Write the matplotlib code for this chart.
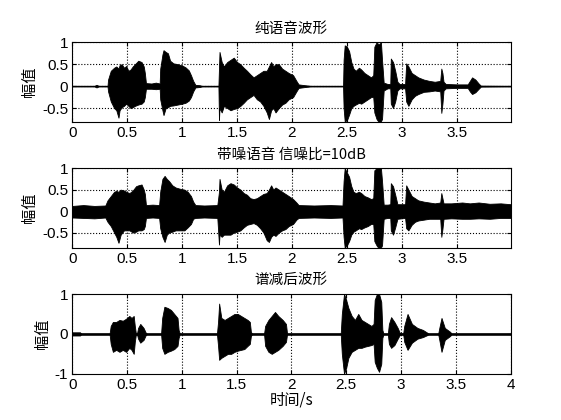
import numpy as np
import matplotlib.pyplot as plt

plt.rcParams['font.family'] = ['Liberation Sans', 'Noto Sans CJK SC', 'DejaVu Sans']
plt.rcParams['font.size'] = 10

# 包络读数：时间(s)，上包络，下包络
t_clean = [0.00, 0.20, 0.22, 0.24, 0.32, 0.325, 0.35, 0.38, 0.40, 0.42,
           0.43, 0.45, 0.47, 0.49, 0.51, 0.53, 0.55, 0.57, 0.60, 0.63,
           0.65, 0.66, 0.67, 0.72, 0.76, 0.795, 0.80, 0.82, 0.83, 0.85,
           0.87, 0.89, 0.92, 0.96, 1.00, 1.03, 1.06, 1.08, 1.10, 1.12,
           1.16, 1.18, 1.33, 1.335, 1.34, 1.36, 1.38, 1.41, 1.44, 1.47,
           1.50, 1.53, 1.56, 1.59, 1.62, 1.65, 1.68, 1.71, 1.74, 1.77,
           1.79, 1.81, 1.83, 1.85, 1.88, 1.91, 1.94, 1.97, 2.01, 2.04,
           2.06, 2.12, 2.17, 2.465, 2.47, 2.48, 2.50, 2.52, 2.54, 2.56,
           2.58, 2.61, 2.63, 2.66, 2.69, 2.72, 2.74, 2.75, 2.77, 2.79,
           2.81, 2.82, 2.835, 2.87, 2.895, 2.90, 2.92, 2.94, 2.96, 2.98,
           3.03, 3.04, 3.06, 3.09, 3.12, 3.15, 3.20, 3.25, 3.30, 3.35,
           3.36, 3.37, 3.38, 3.40, 3.50, 3.60, 3.62, 3.64, 3.67, 3.70,
           3.72, 3.99]
up_clean = [0.005, 0.005, 0.03, 0.005, 0.005, 0.15, 0.35, 0.42, 0.45, 0.40,
            0.48, 0.50, 0.42, 0.46, 0.35, 0.38, 0.45, 0.50, 0.58, 0.55,
            0.45, 0.30, 0.07, 0.06, 0.08, 0.06, 0.40, 0.72, 0.82, 0.78,
            0.75, 0.58, 0.52, 0.50, 0.47, 0.43, 0.36, 0.25, 0.12, 0.03,
            0.02, 0.005, 0.005, 0.40, 0.78, 0.55, 0.45, 0.55, 0.60, 0.65,
            0.55, 0.50, 0.42, 0.35, 0.27, 0.20, 0.25, 0.30, 0.35, 0.35,
            0.45, 0.55, 0.45, 0.50, 0.50, 0.40, 0.35, 0.30, 0.25, 0.12,
            0.04, 0.02, 0.005, 0.005, 0.60, 0.93, 0.90, 0.80, 0.55, 0.40,
            0.35, 0.42, 0.38, 0.30, 0.25, 0.20, 0.25, 0.90, 1.00, 0.95,
            1.00, 0.60, 0.08, 0.05, 0.05, 0.63, 0.55, 0.35, 0.10, 0.05,
            0.05, 0.52, 0.45, 0.30, 0.25, 0.20, 0.15, 0.12, 0.10, 0.12,
            0.40, 0.30, 0.10, 0.05, 0.04, 0.04, 0.12, 0.20, 0.15, 0.06,
            0.01, 0.005]
lo_clean = [-0.005, -0.005, -0.03, -0.005, -0.005, -0.12, -0.35, -0.50, -0.55, -0.72,
            -0.55, -0.48, -0.45, -0.40, -0.45, -0.50, -0.48, -0.45, -0.42, -0.40,
            -0.35, -0.25, -0.06, -0.06, -0.07, -0.06, -0.30, -0.55, -0.66, -0.50,
            -0.48, -0.45, -0.44, -0.42, -0.40, -0.38, -0.33, -0.25, -0.12, -0.03,
            -0.02, -0.005, -0.005, -0.77, -0.50, -0.60, -0.45, -0.50, -0.55, -0.52,
            -0.50, -0.45, -0.38, -0.30, -0.25, -0.20, -0.30, -0.35, -0.45, -0.60,
            -0.75, -0.55, -0.50, -0.60, -0.50, -0.42, -0.38, -0.30, -0.25, -0.12,
            -0.04, -0.02, -0.005, -0.005, -0.50, -0.80, -0.78, -0.65, -0.50, -0.45,
            -0.42, -0.38, -0.40, -0.35, -0.30, -0.25, -0.25, -0.60, -0.75, -0.82,
            -0.80, -0.75, -0.10, -0.05, -0.05, -0.40, -0.50, -0.35, -0.10, -0.05,
            -0.05, -0.35, -0.45, -0.30, -0.22, -0.18, -0.13, -0.12, -0.10, -0.12,
            -0.61, -0.40, -0.10, -0.05, -0.04, -0.04, -0.12, -0.18, -0.14, -0.06,
            -0.01, -0.005]

t_noisy = [0.00, 0.10, 0.20, 0.30, 0.32, 0.35, 0.38, 0.40, 0.42, 0.44,
           0.47, 0.49, 0.52, 0.55, 0.58, 0.60, 0.63, 0.65, 0.66, 0.67,
           0.73, 0.79, 0.80, 0.82, 0.84, 0.86, 0.88, 0.91, 0.94, 0.98,
           1.02, 1.05, 1.08, 1.10, 1.12, 1.20, 1.32, 1.335, 1.34, 1.36,
           1.38, 1.41, 1.44, 1.47, 1.50, 1.53, 1.56, 1.59, 1.62, 1.65,
           1.68, 1.71, 1.74, 1.77, 1.79, 1.81, 1.83, 1.85, 1.88, 1.91,
           1.94, 1.97, 2.01, 2.04, 2.06, 2.20, 2.35, 2.46, 2.47, 2.48,
           2.50, 2.52, 2.54, 2.56, 2.58, 2.61, 2.63, 2.66, 2.69, 2.72,
           2.74, 2.75, 2.77, 2.79, 2.81, 2.82, 2.835, 2.87, 2.895, 2.90,
           2.92, 2.94, 2.96, 3.03, 3.04, 3.06, 3.09, 3.12, 3.15, 3.20,
           3.25, 3.30, 3.35, 3.36, 3.37, 3.38, 3.45, 3.55, 3.62, 3.70,
           3.80, 3.90, 3.99]
up_noisy = [0.12, 0.14, 0.12, 0.13, 0.25, 0.35, 0.45, 0.47, 0.45, 0.50,
            0.48, 0.45, 0.42, 0.48, 0.58, 0.60, 0.62, 0.50, 0.40, 0.14,
            0.15, 0.14, 0.45, 0.75, 0.82, 0.75, 0.70, 0.60, 0.55, 0.52,
            0.50, 0.45, 0.35, 0.22, 0.14, 0.13, 0.14, 0.45, 0.75, 0.50,
            0.45, 0.60, 0.65, 0.62, 0.55, 0.50, 0.42, 0.38, 0.30, 0.28,
            0.30, 0.35, 0.40, 0.42, 0.50, 0.60, 0.50, 0.55, 0.50, 0.45,
            0.40, 0.35, 0.28, 0.20, 0.14, 0.13, 0.14, 0.13, 0.70, 1.00,
            0.90, 0.80, 0.58, 0.45, 0.42, 0.45, 0.42, 0.35, 0.32, 0.28,
            0.30, 0.95, 1.00, 1.00, 1.00, 0.70, 0.15, 0.15, 0.16, 0.65,
            0.58, 0.38, 0.16, 0.16, 0.60, 0.50, 0.35, 0.30, 0.25, 0.22,
            0.20, 0.18, 0.20, 0.42, 0.30, 0.18, 0.18, 0.20, 0.18, 0.20,
            0.17, 0.18, 0.16]
lo_noisy = [-0.15, -0.16, -0.17, -0.15, -0.25, -0.35, -0.50, -0.60, -0.74, -0.55,
            -0.45, -0.45, -0.45, -0.50, -0.48, -0.45, -0.45, -0.42, -0.35, -0.16,
            -0.15, -0.16, -0.40, -0.60, -0.72, -0.55, -0.50, -0.48, -0.45, -0.45,
            -0.45, -0.38, -0.30, -0.18, -0.16, -0.15, -0.16, -0.78, -0.55, -0.60,
            -0.55, -0.55, -0.55, -0.50, -0.48, -0.45, -0.38, -0.32, -0.30, -0.28,
            -0.32, -0.40, -0.50, -0.68, -0.72, -0.60, -0.55, -0.58, -0.50, -0.45,
            -0.42, -0.35, -0.30, -0.20, -0.16, -0.15, -0.16, -0.15, -0.60, -0.85,
            -0.80, -0.70, -0.55, -0.48, -0.45, -0.40, -0.42, -0.38, -0.35, -0.30,
            -0.30, -0.70, -0.80, -0.87, -0.85, -0.80, -0.18, -0.16, -0.16, -0.45,
            -0.55, -0.38, -0.18, -0.16, -0.40, -0.45, -0.32, -0.25, -0.22, -0.20,
            -0.18, -0.18, -0.18, -0.60, -0.42, -0.18, -0.17, -0.18, -0.18, -0.17,
            -0.18, -0.16, -0.16]

t_enh = [0.00, 0.07, 0.08, 0.34, 0.35, 0.37, 0.40, 0.43, 0.46, 0.49,
         0.52, 0.54, 0.56, 0.57, 0.58, 0.59, 0.60, 0.62, 0.65, 0.67,
         0.68, 0.81, 0.82, 0.84, 0.87, 0.90, 0.93, 0.96, 0.97, 0.98,
         1.32, 1.33, 1.34, 1.36, 1.39, 1.42, 1.45, 1.48, 1.51, 1.54,
         1.57, 1.60, 1.62, 1.63, 1.64, 1.75, 1.76, 1.79, 1.82, 1.85,
         1.88, 1.92, 1.95, 1.96, 2.45, 2.46, 2.48, 2.50, 2.52, 2.55,
         2.58, 2.61, 2.64, 2.67, 2.70, 2.73, 2.75, 2.76, 2.78, 2.80,
         2.82, 2.83, 2.84, 2.88, 2.89, 2.91, 2.94, 2.97, 2.99, 3.02,
         3.03, 3.06, 3.10, 3.15, 3.20, 3.24, 3.25, 3.34, 3.35, 3.37,
         3.40, 3.45, 3.46, 4.00]
up_enh = [0.04, 0.04, 0.01, 0.01, 0.20, 0.30, 0.30, 0.35, 0.33, 0.38,
          0.45, 0.40, 0.45, 0.20, 0.01, 0.01, 0.15, 0.25, 0.15, 0.03,
          0.01, 0.01, 0.40, 0.68, 0.65, 0.60, 0.50, 0.40, 0.10, 0.01,
          0.01, 0.30, 0.76, 0.40, 0.35, 0.40, 0.45, 0.50, 0.50, 0.45,
          0.40, 0.35, 0.30, 0.05, 0.01, 0.01, 0.20, 0.35, 0.45, 0.55,
          0.45, 0.35, 0.25, 0.01, 0.01, 0.50, 1.00, 0.85, 0.65, 0.45,
          0.35, 0.50, 0.35, 0.30, 0.25, 0.20, 0.25, 0.85, 1.00, 1.00,
          0.80, 0.10, 0.01, 0.01, 0.25, 0.42, 0.30, 0.15, 0.02, 0.01,
          0.20, 0.50, 0.25, 0.15, 0.10, 0.03, 0.01, 0.01, 0.15, 0.40,
          0.15, 0.05, 0.01, 0.01]
lo_enh = [-0.04, -0.04, -0.01, -0.01, -0.25, -0.45, -0.40, -0.45, -0.40, -0.45,
          -0.35, -0.40, -0.50, -0.20, -0.01, -0.01, -0.12, -0.22, -0.15, -0.03,
          -0.01, -0.01, -0.35, -0.50, -0.45, -0.42, -0.38, -0.30, -0.10, -0.01,
          -0.01, -0.30, -0.65, -0.60, -0.55, -0.50, -0.50, -0.45, -0.42, -0.40,
          -0.38, -0.30, -0.25, -0.05, -0.01, -0.01, -0.30, -0.45, -0.50, -0.45,
          -0.40, -0.30, -0.20, -0.01, -0.01, -0.50, -1.00, -0.85, -0.60, -0.45,
          -0.40, -0.35, -0.35, -0.32, -0.30, -0.28, -0.25, -0.70, -0.85, -0.95,
          -0.75, -0.10, -0.01, -0.01, -0.25, -0.35, -0.28, -0.12, -0.02, -0.01,
          -0.20, -0.40, -0.22, -0.12, -0.08, -0.03, -0.01, -0.01, -0.15, -0.45,
          -0.15, -0.05, -0.01, -0.01]

titles = ['纯语音波形', '带噪语音 信噪比=10dB', '谱减后波形']
ylim_list = [(-0.82, 1.0), (-0.86, 1.0), (-1.0, 1.0)]
xlim_list = [(0, 3.99), (0, 3.99), (0, 4.0)]
xticks_short = [0, 0.5, 1, 1.5, 2, 2.5, 3, 3.5]
xticks_full = [0, 0.5, 1, 1.5, 2, 2.5, 3, 3.5, 4]

cjk = ['Noto Sans CJK SC', 'DejaVu Sans']

fig = plt.figure(figsize=(5.61, 4.2), dpi=100)
bottoms = [0.7093, 0.4096, 0.1100]
data = [(t_clean, up_clean, lo_clean), (t_noisy, up_noisy, lo_noisy), (t_enh, up_enh, lo_enh)]

for i in range(3):
    ax = fig.add_axes([0.129, bottoms[i], 0.781, 0.19])
    t, up, lo = data[i]
    ax.fill_between(t, lo, up, color='black', linewidth=0.6, edgecolor='black')
    ax.axhline(0, color='black', linewidth=1.0 if i < 2 else 1.8)
    ax.set_xlim(*xlim_list[i])
    ax.set_ylim(*ylim_list[i])
    xt = xticks_full if i == 2 else xticks_short
    ax.set_xticks(xt)
    ax.set_xticklabels(['%g' % v for v in xt])
    if i < 2:
        ax.set_yticks([-0.5, 0, 0.5, 1])
        ax.set_yticklabels(['-0.5', '0', '0.5', '1'])
        ax.grid(True, linestyle=':', color='black', linewidth=0.8)
    else:
        ax.set_yticks([-1, 0, 1])
        ax.set_yticklabels(['-1', '0', '1'])
        ax.grid(True, axis='x', linestyle=':', color='black', linewidth=0.8)
    ax.tick_params(direction='in', top=True, right=True, length=3, labelsize=11, pad=3)
    for s in ax.spines.values():
        s.set_linewidth(0.8)
    ax.set_title(titles[i], family=cjk, fontsize=10.5, pad=7)
    ax.set_ylabel('幅值', family=cjk, fontsize=11, labelpad=3)
    if i == 2:
        ax.set_xlabel('时间/s', family=cjk, fontsize=11, labelpad=0)

fig.savefig('out.png', dpi=100)
